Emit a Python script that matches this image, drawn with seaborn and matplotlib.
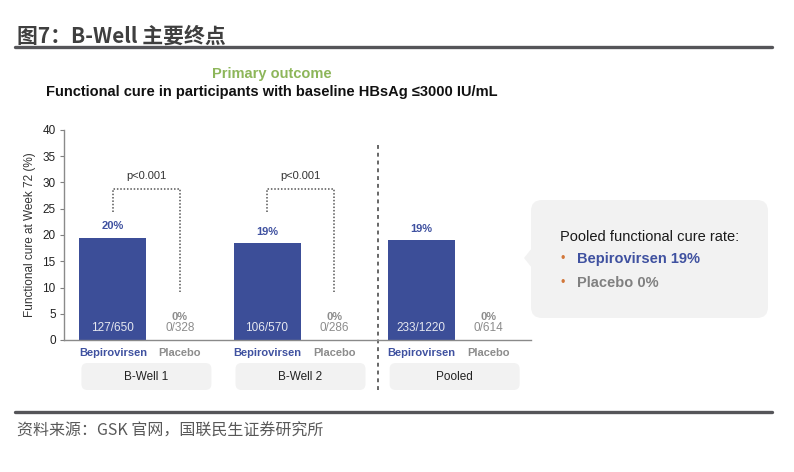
import numpy as np
import pandas as pd
import matplotlib
matplotlib.use("Agg")
import matplotlib.pyplot as plt
from matplotlib.patches import FancyBboxPatch, Polygon
import seaborn as sns

# 数据
groups = ["B-Well 1", "B-Well 2", "Pooled"]
arms = ["Bepirovirsen", "Placebo"]
bepi_rate = [19.5, 18.5, 19.0]
placebo_rate = [0.0, 0.0, 0.0]
bepi_pct = ["20%", "19%", "19%"]
placebo_pct = ["0%", "0%", "0%"]
bepi_n = ["127/650", "106/570", "233/1220"]
placebo_n = ["0/328", "0/286", "0/614"]
p_values = ["p<0.001", "p<0.001"]

BLUE = "#3C4E98"
BLUE_TXT = "#3F51A0"
GRAY_TXT = "#8C8C8C"
BOX_GRAY = "#F2F2F2"

sns.set_theme(style="white")
plt.rcParams["font.family"] = ["Liberation Sans", "Noto Sans CJK SC", "DejaVu Sans"]

W, H = 794, 472
fig = plt.figure(figsize=(W / 100, H / 100), dpi=100)


def fx(px):
    return px / W


def fy(py):
    return 1 - py / H


# 坐标轴区域
ax = fig.add_axes([fx(64), fy(340), fx(531) - fx(64), fy(130) - fy(340)])

step = 2.3  # 组间距（含组内两柱）
rows = []
for g, name in enumerate(groups):
    rows.append({"group": name, "arm": arms[0], "pos": g * step, "rate": bepi_rate[g]})
    rows.append({"group": name, "arm": arms[1], "pos": g * step + 1, "rate": placebo_rate[g]})
df = pd.DataFrame(rows)

sns.barplot(data=df, x="pos", y="rate", hue="arm", native_scale=True,
            palette={arms[0]: BLUE, arms[1]: "#A6A6A6"}, width=1.0, saturation=1,
            errorbar=None, linewidth=0, legend=False, ax=ax)

ax.set_xlim(-0.73, 6.24)
ax.set_ylim(0, 40)
ax.set_yticks(range(0, 41, 5))
ax.tick_params(axis="y", labelsize=8.5, length=3, width=0.8, color="#808080",
               left=True, labelcolor="#222222", pad=3)
ax.set_xticks(df["pos"])
ax.set_xticklabels(df["arm"], fontsize=8, fontweight="bold")
ax.tick_params(axis="x", length=0, pad=6)
for lbl, arm in zip(ax.get_xticklabels(), df["arm"]):
    lbl.set_color(BLUE_TXT if arm == arms[0] else GRAY_TXT)
ax.set_xlabel("")
ax.set_ylabel("")
for s in ["top", "right"]:
    ax.spines[s].set_visible(False)
for s in ["left", "bottom"]:
    ax.spines[s].set_color("#8A8A8A")
    ax.spines[s].set_linewidth(1.0)
ax.patch.set_alpha(0)

# 柱上标注
for g in range(len(groups)):
    xb = g * step
    xp = g * step + 1
    ax.text(xb, bepi_rate[g] + 1.2, bepi_pct[g], ha="center", va="bottom",
            fontsize=8, fontweight="bold", color=BLUE_TXT)
    ax.text(xb, 2.3, bepi_n[g], ha="center", va="center", fontsize=8.5, color="#E6E8F0")
    ax.text(xp, placebo_rate[g] + 4.4, placebo_pct[g], ha="center", va="center",
            fontsize=8, fontweight="bold", color=GRAY_TXT)
    ax.text(xp, placebo_rate[g] + 2.3, placebo_n[g], ha="center", va="center",
            fontsize=8.5, color=GRAY_TXT)

# 显著性括号
for g, p in enumerate(p_values):
    x0, x1 = g * step, g * step + 1
    ax.plot([x0, x0, x1, x1], [24.4, 28.7, 28.7, 9.1], linestyle=(0, (1, 1.2)),
            color="#555555", lw=1.1, clip_on=False)
    ax.text((x0 + x1) / 2, 30.2, p, ha="center", va="bottom", fontsize=8, color="#333333")

# 分隔虚线
ax.axvline((step + 1 + 2 * step) / 2, ymin=-0.238, ymax=0.93, color="#666666", lw=1.4,
           linestyle=(0, (2, 2)), clip_on=False)

# 分组标签框
for g, name in enumerate(groups):
    cx = ax.transData.transform((g * step + 0.5, 0))[0]
    x0 = cx - 65
    box = FancyBboxPatch((fx(x0), fy(390)), fx(130), fy(363) - fy(390),
                         boxstyle="round,pad=0,rounding_size=%f" % fx(6),
                         mutation_aspect=W / H, transform=fig.transFigure,
                         facecolor=BOX_GRAY, edgecolor="none")
    fig.patches.append(box)
    fig.text(fx(cx), fy(377), name, ha="center", va="center", fontsize=8.5, color="#222222")

fig.text(fx(30), fy(235), "Functional cure at Week 72 (%)", rotation=90,
         ha="center", va="center", fontsize=8.5, color="#333333")

# 标题
fig.text(fx(272), fy(74), "Primary outcome", ha="center", va="center",
         fontsize=10.5, fontweight="bold", color="#8DB65A")
fig.text(fx(272), fy(92), "Functional cure in participants with baseline HBsAg ≤3000 IU/mL",
         ha="center", va="center", fontsize=10.5, fontweight="bold", color="#111111")

# 右侧说明框
callout = FancyBboxPatch((fx(531), fy(318)), fx(768) - fx(531), fy(200) - fy(318),
                         boxstyle="round,pad=0,rounding_size=%f" % fx(11),
                         mutation_aspect=W / H, transform=fig.transFigure,
                         facecolor=BOX_GRAY, edgecolor="none")
fig.patches.append(callout)
fig.patches.append(Polygon([(fx(532), fy(248)), (fx(524), fy(258)), (fx(532), fy(268))],
                           closed=True, transform=fig.transFigure,
                           facecolor=BOX_GRAY, edgecolor="none"))
fig.text(fx(560), fy(237), "Pooled functional cure rate:", ha="left", va="center",
         fontsize=10.5, color="#1A1A1A")
fig.text(fx(563), fy(259), "•", ha="center", va="center", fontsize=9, color="#D2773A")
fig.text(fx(563), fy(283), "•", ha="center", va="center", fontsize=9, color="#D2773A")
fig.text(fx(577), fy(259), "Bepirovirsen 19%", ha="left", va="center",
         fontsize=10.5, fontweight="bold", color=BLUE_TXT)
fig.text(fx(577), fy(283), "Placebo 0%", ha="left", va="center",
         fontsize=10.5, fontweight="bold", color="#808080")

# 报告页眉页脚
fig.text(fx(17), fy(36), "图7：B-Well 主要终点", ha="left", va="center",
         fontsize=15, fontweight="bold", color="#3F3F3F",
         family=["Noto Sans CJK SC", "DejaVu Sans"])
fig.add_artist(plt.Line2D([fx(15), fx(772)], [fy(47), fy(47)], color="#555559", lw=2.4,
                          transform=fig.transFigure))
fig.add_artist(plt.Line2D([fx(15), fx(772)], [fy(412), fy(412)], color="#555559", lw=2.4,
                          transform=fig.transFigure))
fig.text(fx(17), fy(431), "资料来源：GSK 官网，国联民生证券研究所", ha="left", va="center",
         fontsize=11.5, color="#595959", family=["Noto Sans CJK SC", "DejaVu Sans"])

fig.savefig("out.png", dpi=100, facecolor="white")
